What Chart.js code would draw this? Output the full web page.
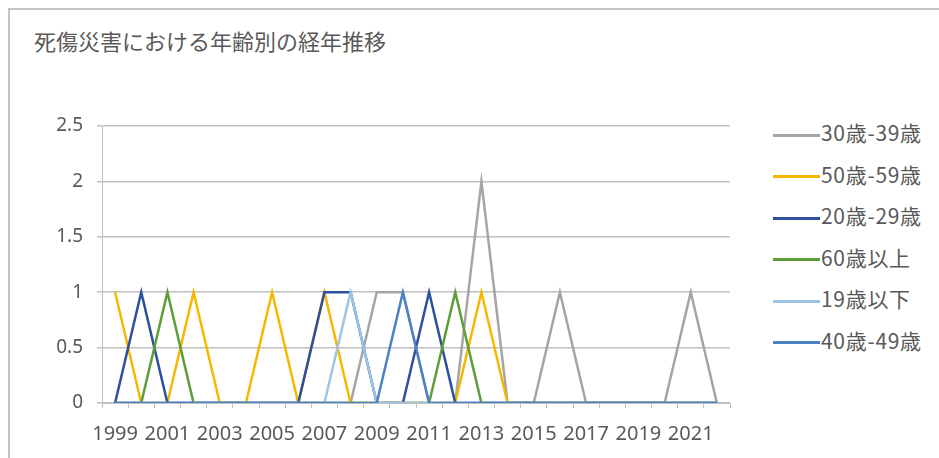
<!DOCTYPE html>
<html>
<head>
<meta charset="utf-8">
<script src="https://cdn.jsdelivr.net/npm/chart.js@4"></script>
<style>
  body { margin: 0; background: #fff; }
  #wrap { position: relative; width: 939px; height: 458px; overflow: hidden; }
  #frame { position: absolute; left: 8px; top: 8px; right: -10px; bottom: -10px;
           border-top: 2px solid #c4c4c4; border-left: 2px solid #c4c4c4; }
  #title { position: absolute; left: 34px; top: 24px; font: 22px "Noto Sans CJK JP", sans-serif; color: #595959; }
  #legend { position: absolute; left: 773px; top: 0; font: 21px "Noto Sans CJK JP", sans-serif; color: #595959; letter-spacing: 0.7px; }
  .item { position: absolute; left: 0; white-space: nowrap; height: 24px; line-height: 24px; }
  .item span.ln { display: inline-block; width: 47px; height: 3px; vertical-align: middle; margin-right: 1px; }
  canvas { position: absolute; left: 0; top: 0; }
</style>
</head>
<body>
<div id="wrap">
  <div id="frame"></div>
  <div id="title">死傷災害における年齢別の経年推移</div>
  <div id="legend"></div>
  <canvas id="myChart" width="939" height="458"></canvas>
</div>
<script>
const years = [
  '1999','2000','2001','2002','2003','2004','2005','2006','2007','2008','2009','2010',
  '2011','2012','2013','2014','2015','2016','2017','2018','2019','2020','2021','2022'
];

const age30s = [0,0,0,0,0,0,0,0,0,0,1,1,0,0,2,0,0,1,0,0,0,0,1,0];
const age50s = [1,0,0,1,0,0,1,0,1,0,0,0,0,0,1,0,0,0,0,0,0,0,0,0];
const age20s = [0,1,0,0,0,0,0,0,1,1,0,0,1,0,0,0,0,0,0,0,0,0,0,0];
const age60up = [0,0,1,0,0,0,0,0,0,0,0,0,0,1,0,0,0,0,0,0,0,0,0,0];
const age19down = [0,0,0,0,0,0,0,0,0,1,0,0,0,0,0,0,0,0,0,0,0,0,0,0];
const age40s = [0,0,0,0,0,0,0,0,0,0,0,1,0,0,0,0,0,0,0,0,0,0,0,0];

const seriesNames = ['30歳-39歳','50歳-59歳','20歳-29歳','60歳以上','19歳以下','40歳-49歳'];
const seriesData = [age30s, age50s, age20s, age60up, age19down, age40s];
const colors = ['#a5a5a5','#f5b800','#2c4f9e','#5e9e3a','#9dc3e6','#4a82c4'];

const datasets = seriesNames.map((name, i) => ({
  label: name,
  data: seriesData[i],
  borderColor: colors[i],
  backgroundColor: colors[i],
  borderWidth: 2.5,
  pointRadius: 0,
  tension: 0,
  order: seriesNames.length - i
}));

// legend as html, rows as in the picture
const legendRows = [132, 173.5, 215, 256.5, 298, 339.5];
const legend = document.getElementById('legend');
seriesNames.forEach((name, i) => {
  const d = document.createElement('div');
  d.className = 'item';
  d.style.top = (legendRows[i] - 12) + 'px';
  d.innerHTML = '<span class="ln" style="background:' + colors[i] + '"></span>' + name;
  legend.appendChild(d);
});

const config = {
  type: 'line',
  data: { labels: years, datasets: datasets },
  options: {
    responsive: false,
    animation: false,
    layout: { padding: { left: 0, right: 209, top: 126, bottom: 0 } },
    plugins: { legend: { display: false }, tooltip: { enabled: false } },
    scales: {
      x: {
        offset: true,
        afterFit: (s) => { s.height = 55; },
        grid: { offset: true, drawOnChartArea: false, tickLength: 5, color: '#bfbfbf' },
        border: { display: true, color: '#bfbfbf' },
        ticks: {
          autoSkip: false, maxRotation: 0, padding: 14,
          color: '#595959', font: { size: 20, family: 'Noto Sans' },
          callback: function(v, i) { return i % 2 === 0 ? this.getLabelForValue(v) : ''; }
        }
      },
      y: {
        min: 0, max: 2.5,
        afterFit: (s) => { s.width = 102; },
        grid: { color: '#c0c0c0', tickLength: 5, lineWidth: 1.5 },
        border: { display: true, color: '#bfbfbf' },
        ticks: {
          stepSize: 0.5, padding: 14, color: '#595959', font: { size: 19, family: 'Noto Sans' },
          callback: (v) => String(v)
        }
      }
    }
  }
};

const myChart = new Chart(document.getElementById('myChart'), config);
</script>
</body>
</html>
